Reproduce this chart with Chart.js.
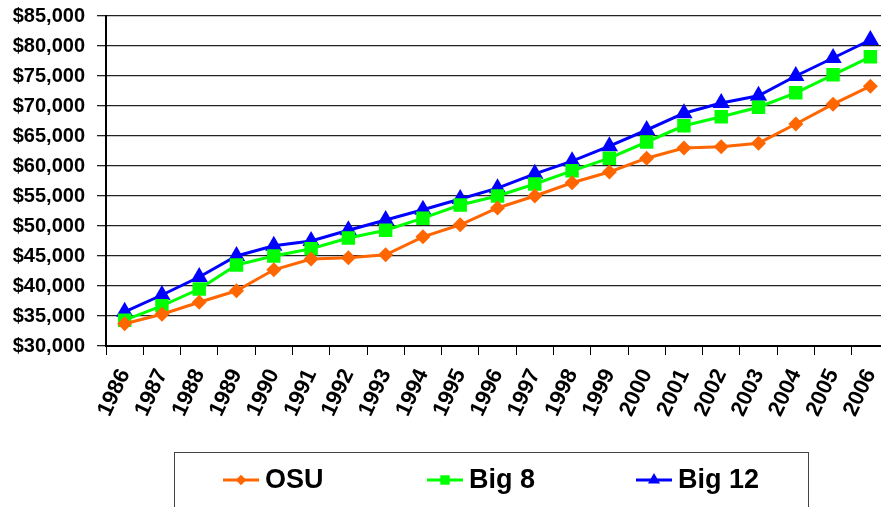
<!DOCTYPE html>
<html lang="en">
<head>
  <meta charset="UTF-8">
  <title>OSU vs Big 8 vs Big 12</title>
  <script src="https://cdn.jsdelivr.net/npm/chart.js"></script>
  <style>
    html, body { margin: 0; padding: 0; background: #fff; overflow: hidden; }
    #wrap { position: absolute; left: 0; top: 0; width: 899px; height: 507px; }
  </style>
</head>
<body>
  <div id="wrap"><canvas id="salaryChart"></canvas></div>

  <script>
    // Data
    const years = ['1986', '1987', '1988', '1989', '1990', '1991', '1992', '1993', '1994', '1995', '1996',
                   '1997', '1998', '1999', '2000', '2001', '2002', '2003', '2004', '2005', '2006'];
    const osu   = [33700, 35300, 37300, 39200, 42700, 44500, 44700, 45200, 48200, 50200, 53000,
                   55000, 57200, 59000, 61300, 63000, 63200, 63800, 67000, 70300, 73300];
    const big8  = [34300, 36700, 39500, 43500, 45000, 46200, 48000, 49300, 51300, 53500, 55000,
                   57000, 59200, 61300, 64000, 66700, 68200, 69800, 72200, 75200, 78200];
    const big12 = [35700, 38500, 41500, 45000, 46700, 47500, 49300, 51000, 52700, 54500, 56300,
                   58700, 60800, 63300, 66000, 68800, 70500, 71700, 75000, 78000, 81000];
    const yMin = 30000, yMax = 85000, yStep = 5000;

    const series = [
      { label: 'OSU',    data: osu,   color: '#FF6600', style: 'rectRot',  radius: 7.5, legendX: 223 },
      { label: 'Big 8',  data: big8,  color: '#00FF00', style: 'rect',     radius: 9.5, legendX: 427 },
      { label: 'Big 12', data: big12, color: '#0000FF', style: 'triangle', radius: 10,  legendX: 636 }
    ];

    // Excel-style legend box: short line with marker, then bold label
    const boxLegend = {
      id: 'boxLegend',
      afterDraw(chart) {
        const ctx = chart.ctx;
        ctx.save();
        ctx.strokeStyle = '#444';
        ctx.lineWidth = 1;
        ctx.strokeRect(174.5, 452.5, 634, 80);
        const cy = 480;
        series.forEach(s => {
          const x0 = s.legendX;
          ctx.strokeStyle = s.color;
          ctx.lineWidth = 3;
          ctx.beginPath();
          ctx.moveTo(x0, cy);
          ctx.lineTo(x0 + 36, cy);
          ctx.stroke();
          ctx.fillStyle = s.color;
          Chart.helpers.drawPoint(ctx, { pointStyle: s.style, radius: s.radius * 0.7, rotation: 0, borderWidth: 0 }, x0 + 18, cy);
          ctx.fillStyle = '#000';
          ctx.font = 'bold 27px "Liberation Sans", Arial, sans-serif';
          ctx.textBaseline = 'middle';
          ctx.fillText(s.label, x0 + 42, cy + 1);
        });
        ctx.restore();
      }
    };

    const ctx = document.getElementById('salaryChart').getContext('2d');
    new Chart(ctx, {
      type: 'line',
      data: {
        labels: years,
        datasets: series.map(s => ({
          label: s.label,
          data: s.data,
          borderColor: s.color,
          backgroundColor: s.color,
          borderWidth: 3,
          pointStyle: s.style,
          pointRadius: s.radius,
          pointBorderWidth: 0,
          tension: 0
        }))
      },
      options: {
        responsive: true,
        maintainAspectRatio: false,
        animation: false,
        layout: { padding: { top: 16, right: 0, bottom: 71, left: 0 } },
        plugins: {
          legend: { display: false },
          tooltip: { enabled: false }
        },
        scales: {
          x: {
            offset: true,
            afterFit(scale) { scale.height = 90; scale.paddingRight = 0; },
            grid: {
              offset: true,
              drawOnChartArea: false,
              color: '#000',
              tickLength: 9
            },
            border: { color: '#000', width: 2 },
            ticks: {
              autoSkip: false,
              minRotation: 65,
              maxRotation: 65,
              color: '#000',
              padding: 10,
              font: { family: '"Liberation Sans", Arial, sans-serif', size: 22, weight: 'bold' }
            }
          },
          y: {
            min: yMin,
            max: yMax,
            afterFit(scale) { scale.width = 106; scale.paddingTop = 0; scale.paddingBottom = 0; },
            grid: { color: '#222', lineWidth: 1.3, tickLength: 9 },
            border: { color: '#000', width: 2 },
            ticks: {
              stepSize: yStep,
              color: '#000',
              padding: 12,
              font: { family: '"Liberation Sans", Arial, sans-serif', size: 20, weight: 'bold' },
              callback: v => '$' + v.toLocaleString('en-US')
            }
          }
        }
      },
      plugins: [boxLegend]
    });
  </script>
</body>
</html>
